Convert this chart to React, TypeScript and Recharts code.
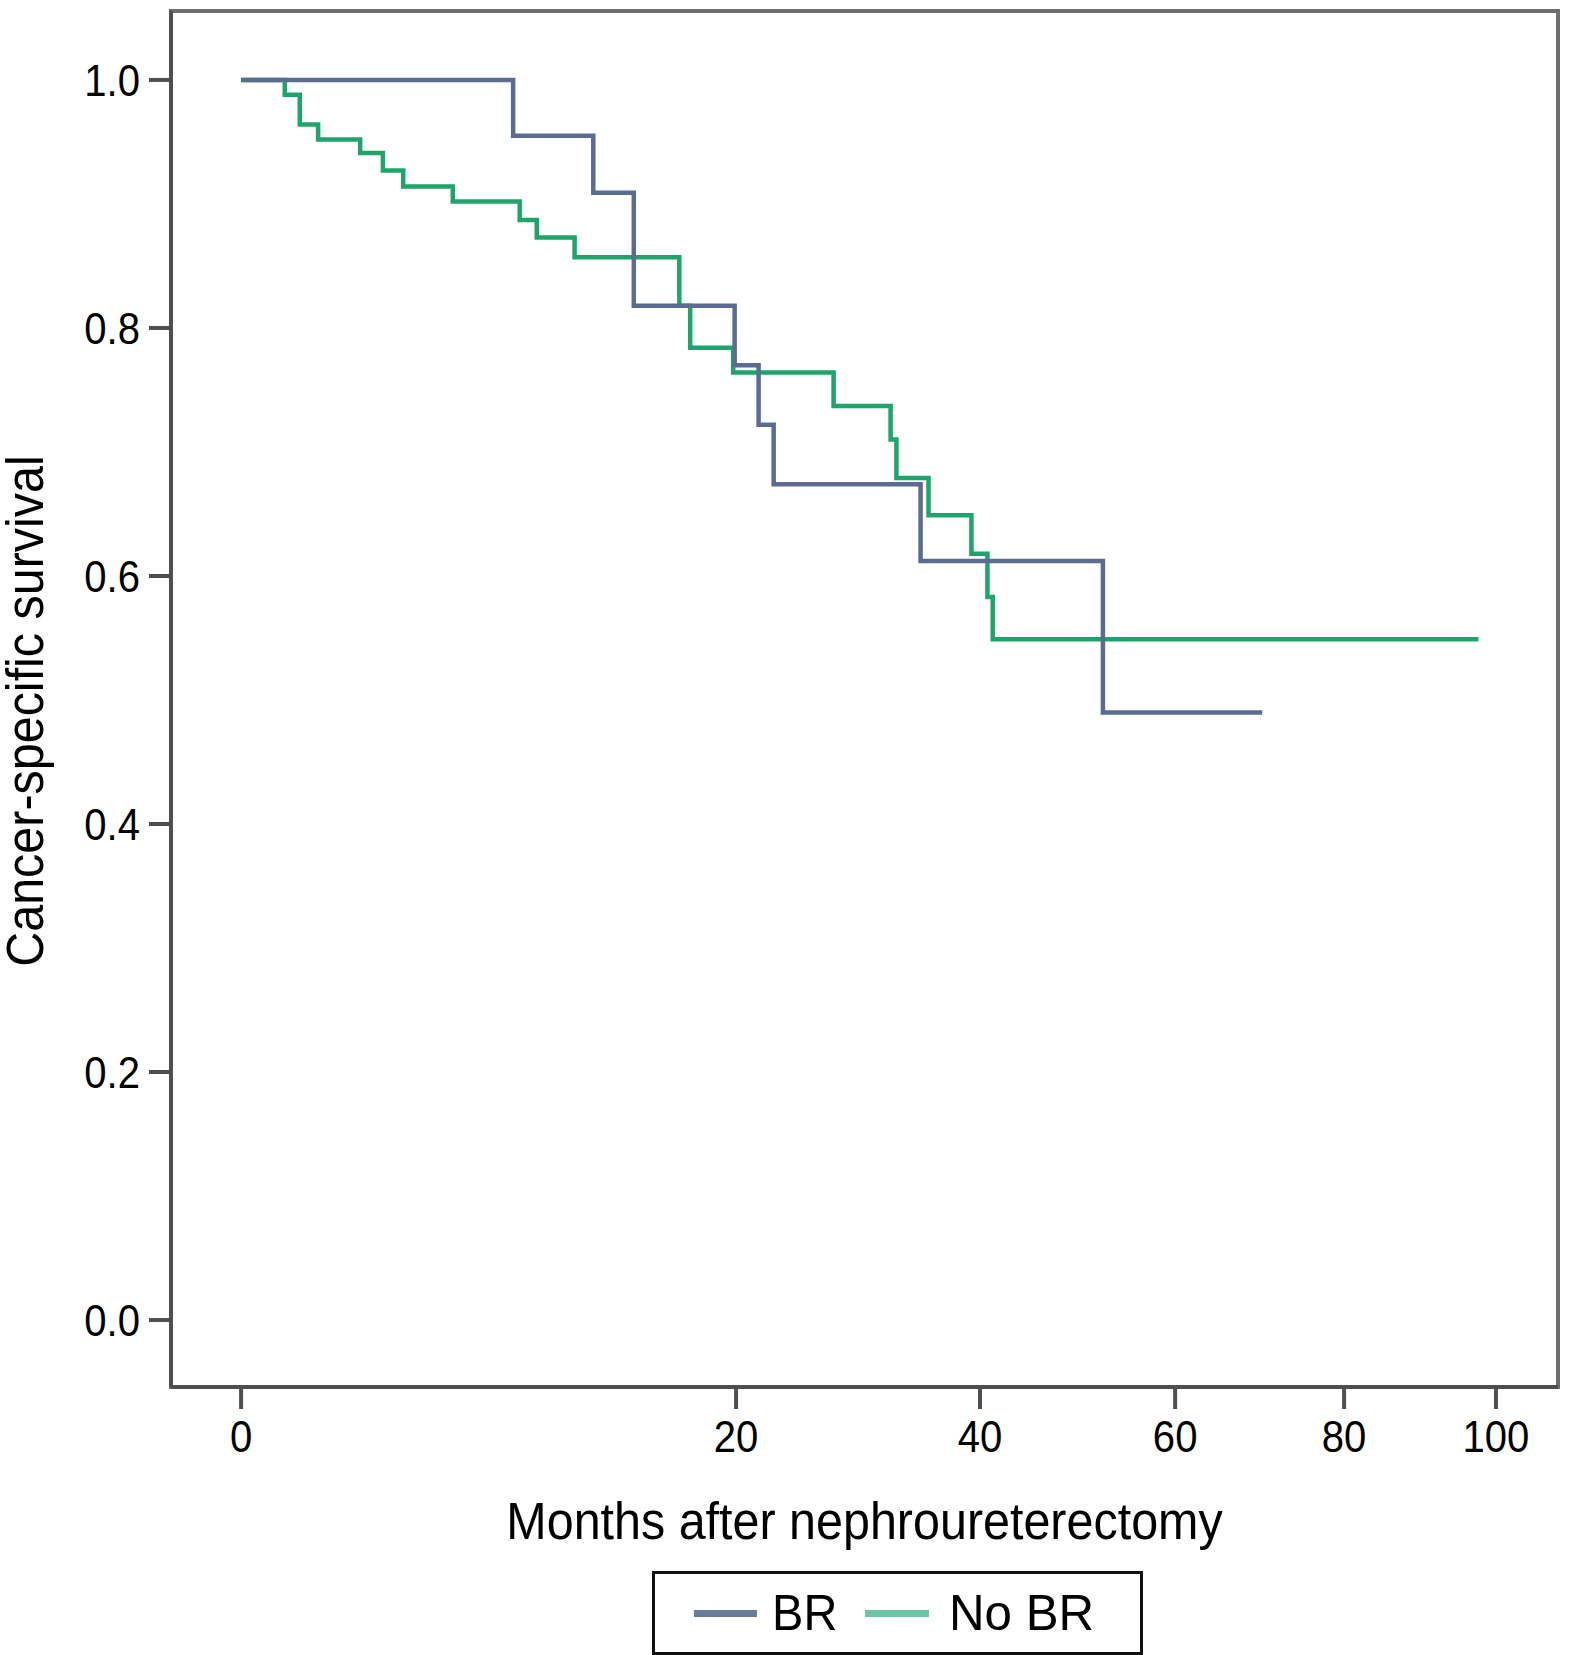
import { LineChart, Line, XAxis, YAxis, ReferenceArea } from 'recharts';

// Kaplan-Meier steps (months, cancer-specific survival)
const brMonths = [0, 7.1, 11.1, 13.4, 19.9, 21.6, 22.7, 34.6, 52.2, 70.0];
const brSurvival = [1.0, 0.955, 0.909, 0.818, 0.77, 0.722, 0.674, 0.612, 0.49, 0.49];

const noBrMonths = [
  0, 0.3, 0.5, 0.8, 1.7, 2.3, 2.9, 4.6, 7.4, 8.2, 10.1, 16.2, 16.9, 19.8, 27.3, 32.0, 32.5, 35.3, 39.2,
  40.7, 41.2, 97.6,
];
const noBrSurvival = [
  1.0, 0.988, 0.964, 0.952, 0.941, 0.927, 0.914, 0.902, 0.887, 0.873, 0.857, 0.818, 0.784, 0.764, 0.737,
  0.71, 0.679, 0.649, 0.618, 0.583, 0.549, 0.549,
];

const xTickMonths = [0, 20, 40, 60, 80, 100];
const yTickValues = [0, 0.2, 0.4, 0.6, 0.8, 1.0];

// the time axis in the original is stretched near zero (roughly a power scale)
const P = 0.578;
const toAxis = (m: number) => Math.pow(m, P);
const fromAxis = (u: number) => Math.pow(Math.max(u, 0), 1 / P);

const brData = brMonths.map((m, i) => ({ u: toAxis(m), s: brSurvival[i] }));
const noBrData = noBrMonths.map((m, i) => ({ u: toAxis(m), s: noBrSurvival[i] }));

const BLUE = '#5b6c92';
const GREEN = '#1fa56c';
const FONT = '"Liberation Sans", Arial, Helvetica, sans-serif';
const NARROW = 0.91;

// condensed-looking tick text, like the Helvetica Narrow of the original
function XTick(props: any) {
  const { x, y, payload } = props;
  return (
    <text
      x={x}
      y={y}
      dy="0.71em"
      textAnchor="middle"
      fontSize={44}
      fontFamily={FONT}
      fill="#000"
      transform={`translate(${x},${y}) scale(${NARROW},1) translate(${-x},${-y})`}
    >
      {String(Math.round(fromAxis(payload.value)))}
    </text>
  );
}

function YTick(props: any) {
  const { x, y, payload } = props;
  return (
    <text
      x={x}
      y={y}
      dy="0.355em"
      textAnchor="end"
      fontSize={44}
      fontFamily={FONT}
      fill="#000"
      transform={`translate(${x},${y}) scale(${NARROW},1) translate(${-x},${-y})`}
    >
      {Number(payload.value).toFixed(1)}
    </text>
  );
}

export default function App() {
  const xDomain: [number, number] = [-0.8, 15.03];
  const yDomain: [number, number] = [-0.054, 1.0556];

  return (
    <div
      style={{
        position: 'absolute',
        left: 0,
        top: 0,
        width: 1571,
        height: 1655,
        background: '#fff',
        fontFamily: FONT,
        color: '#000',
      }}
    >
      <LineChart width={1571} height={1655} margin={{ top: 11, right: 13, left: 0, bottom: 0 }}>
        <XAxis
          dataKey="u"
          type="number"
          domain={xDomain}
          allowDataOverflow
          ticks={xTickMonths.map(toAxis)}
          height={268}
          tickSize={22}
          tickMargin={12}
          stroke="#4f4f4f"
          strokeWidth={4}
          tick={<XTick />}
        />
        <YAxis
          type="number"
          domain={yDomain}
          allowDataOverflow
          ticks={yTickValues}
          width={171}
          tickSize={22}
          tickMargin={9}
          stroke="#4f4f4f"
          strokeWidth={4}
          tick={<YTick />}
        />
        <ReferenceArea
          x1={xDomain[0]}
          x2={xDomain[1]}
          y1={yDomain[0]}
          y2={yDomain[1]}
          fill="none"
          stroke="#6e6e6e"
          strokeWidth={4}
        />
        <Line
          data={noBrData}
          dataKey="s"
          type="stepAfter"
          stroke={GREEN}
          strokeWidth={4.5}
          dot={false}
          isAnimationActive={false}
        />
        <Line
          data={brData}
          dataKey="s"
          type="stepAfter"
          stroke={BLUE}
          strokeWidth={4.5}
          dot={false}
          isAnimationActive={false}
        />
      </LineChart>

      <div
        style={{
          position: 'absolute',
          left: 2,
          top: 687,
          width: 48,
          height: 48,
          display: 'flex',
          alignItems: 'center',
          justifyContent: 'center',
        }}
      >
        <div
          style={{
            transform: 'rotate(-90deg) scaleX(0.95)',
            whiteSpace: 'nowrap',
            fontSize: 51,
            lineHeight: '48px',
          }}
        >
          Cancer-specific survival
        </div>
      </div>

      <div
        style={{
          position: 'absolute',
          left: 171,
          width: 1387,
          top: 1498,
          textAlign: 'center',
          fontSize: 51,
          lineHeight: '48px',
          whiteSpace: 'nowrap',
          transform: 'scaleX(0.95)',
        }}
      >
        Months after nephroureterectomy
      </div>

      <div
        style={{
          position: 'absolute',
          left: 652,
          top: 1571,
          width: 491,
          height: 84,
          boxSizing: 'border-box',
          border: '3px solid #111',
          display: 'flex',
          alignItems: 'center',
          fontSize: 50,
        }}
      >
        <span style={{ marginLeft: 39, width: 63, height: 7, background: '#677d9b', display: 'inline-block' }} />
        <span style={{ marginLeft: 13, display: 'inline-block', transform: 'scaleX(0.94)' }}>BR</span>
        <span style={{ marginLeft: 26, width: 64, height: 7, background: '#6cc5a6', display: 'inline-block' }} />
        <span
          style={{
            marginLeft: 20,
            display: 'inline-block',
            transform: 'scaleX(0.985)',
            transformOrigin: 'left center',
          }}
        >
          No BR
        </span>
      </div>
    </div>
  );
}
